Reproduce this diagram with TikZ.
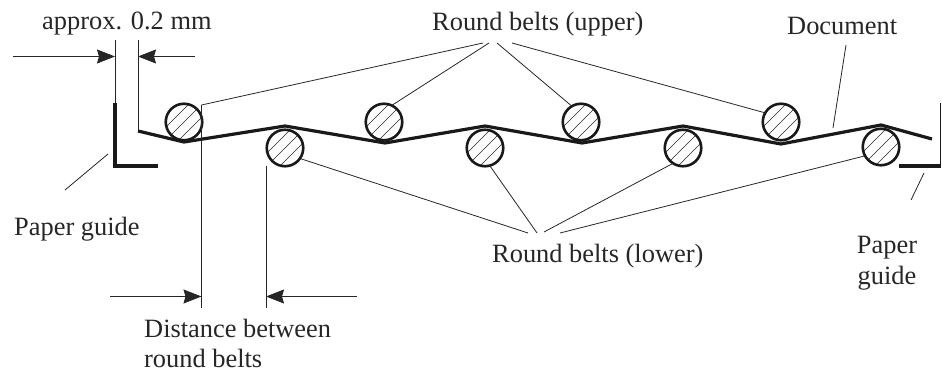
\documentclass[tikz,border=0pt]{standalone}
\usepackage{fontspec}
\setmainfont{Liberation Serif}
\usetikzlibrary{arrows.meta}
\tikzset{
 belt/.style={circle,draw=black!90,line width=2.6pt,minimum size=36.5pt,inner sep=0pt,outer sep=0pt,
  path picture={\foreach \d in {-39,-26,...,39}{\draw[line width=.55pt,black!85] ([xshift=\d pt,yshift=-30pt]path picture bounding box.center) ++(-30pt,0) -- ++(60pt,60pt);}}},
 thin/.style={line width=.8pt,black!85},
 heavy/.style={line width=3.2pt,black!90,line join=miter},
 lbl/.style={font=\fontsize{26.4}{30}\selectfont,text=black!85,inner sep=0pt,align=left},
 dimarrow/.style={thin,-{Stealth[length=18pt,width=14pt,inset=2pt]}},
}
\begin{document}
\begin{tikzpicture}[x=1pt,y=-1pt]
\useasboundingbox (0,0) rectangle (942,371);
\foreach \n/\x/\y in {u1/184/122,u2/384/122,u3/581/122,u4/781/122,l1/285/148,l2/485/148,l3/683/148,l4/881/147}{
 \node[belt] (\n) at (\x,\y) {};
}
\coordinate (d0) at (138,131);
\draw[heavy] (d0) -- (184,142) -- (285,126) -- (385,143) -- (485,126) -- (582,143) -- (683,126) -- (781,144) -- (881,125) -- (932,139);
\coordinate (g1) at (115,103); \coordinate (g2) at (115,166); \coordinate (g3) at (158,166);
\draw[heavy] (g1) -- (g2) -- (g3);
\coordinate (h1) at (940.5,103); \coordinate (h2) at (940.5,166); \coordinate (h3) at (899,166);
\draw[line width=1.6pt,black!90] (h1) -- (h2);
\draw[heavy] (h2) -- (h3);
\node[lbl,anchor=base west] (approx) at (42,30) {approx. 0.2 mm};
\node[lbl,anchor=base west] (upper) at (432,31) {Round belts (upper)};
\node[lbl,anchor=base west] (doc) at (787,35) {Document};
\node[lbl,anchor=base west] (pgl) at (14,236) {Paper guide};
\node[lbl,anchor=base west] (lower) at (492,262) {Round belts (lower)};
\node[lbl,anchor=base] (pgr1) at (887,254) {Paper};
\node[lbl,anchor=base] (pgr2) at (887,285) {guide};
\node[lbl,anchor=base west] (dist1) at (144,337) {Distance between};
\node[lbl,anchor=base west] (dist2) at (144,367) {round belts};
% dimensions
\coordinate (a1) at (115,40); \coordinate (a2) at (138,40);
\draw[thin] (a1) -- (g1); \draw[thin] (a2) -- (d0);
\coordinate (a3) at (13,56.5); \coordinate (a4) at (115,56.5); \coordinate (a5) at (195,56.5); \coordinate (a6) at (138,56.5);
\draw[dimarrow] (a3) -- (a4); \draw[dimarrow] (a5) -- (a6);
\coordinate (b1) at (201.5,105); \coordinate (b2) at (201.5,308); \coordinate (b3) at (266,166); \coordinate (b4) at (266,308);
\draw[thin] (b1) -- (b2); \draw[thin] (b3) -- (b4);
\coordinate (b5) at (110,296.5); \coordinate (b6) at (201.5,296.5); \coordinate (b7) at (357,296.5); \coordinate (b8) at (266,296.5);
\draw[dimarrow] (b5) -- (b6); \draw[dimarrow] (b7) -- (b8);
% leaders
\coordinate (t1) at (483,43); \coordinate (t2) at (489,43); \coordinate (t3) at (497,43); \coordinate (t4) at (512,43);
\draw[thin] (t1) -- (b1); \draw[thin] (t2) -- (u2.65); \draw[thin] (t3) -- (u3.120); \draw[thin] (t4) -- (u4.150);
\coordinate (r1) at (528,233); \coordinate (r2) at (537,233); \coordinate (r3) at (544,232); \coordinate (r4) at (560,233);
\draw[thin] (r1) -- (l1.-35); \draw[thin] (r2) -- (l2.-75); \draw[thin] (r3) -- (l3.-123); \draw[thin] (r4) -- (l4.-151);
\coordinate (c1) at (846,45); \coordinate (c2) at (833,128); \draw[thin] (c1) -- (c2);
\coordinate (c3) at (108,154); \coordinate (c4) at (65,190); \draw[thin] (c3) -- (c4);
\coordinate (c5) at (924,173); \coordinate (c6) at (911,200); \draw[thin] (c5) -- (c6);
\end{tikzpicture}
\end{document}
